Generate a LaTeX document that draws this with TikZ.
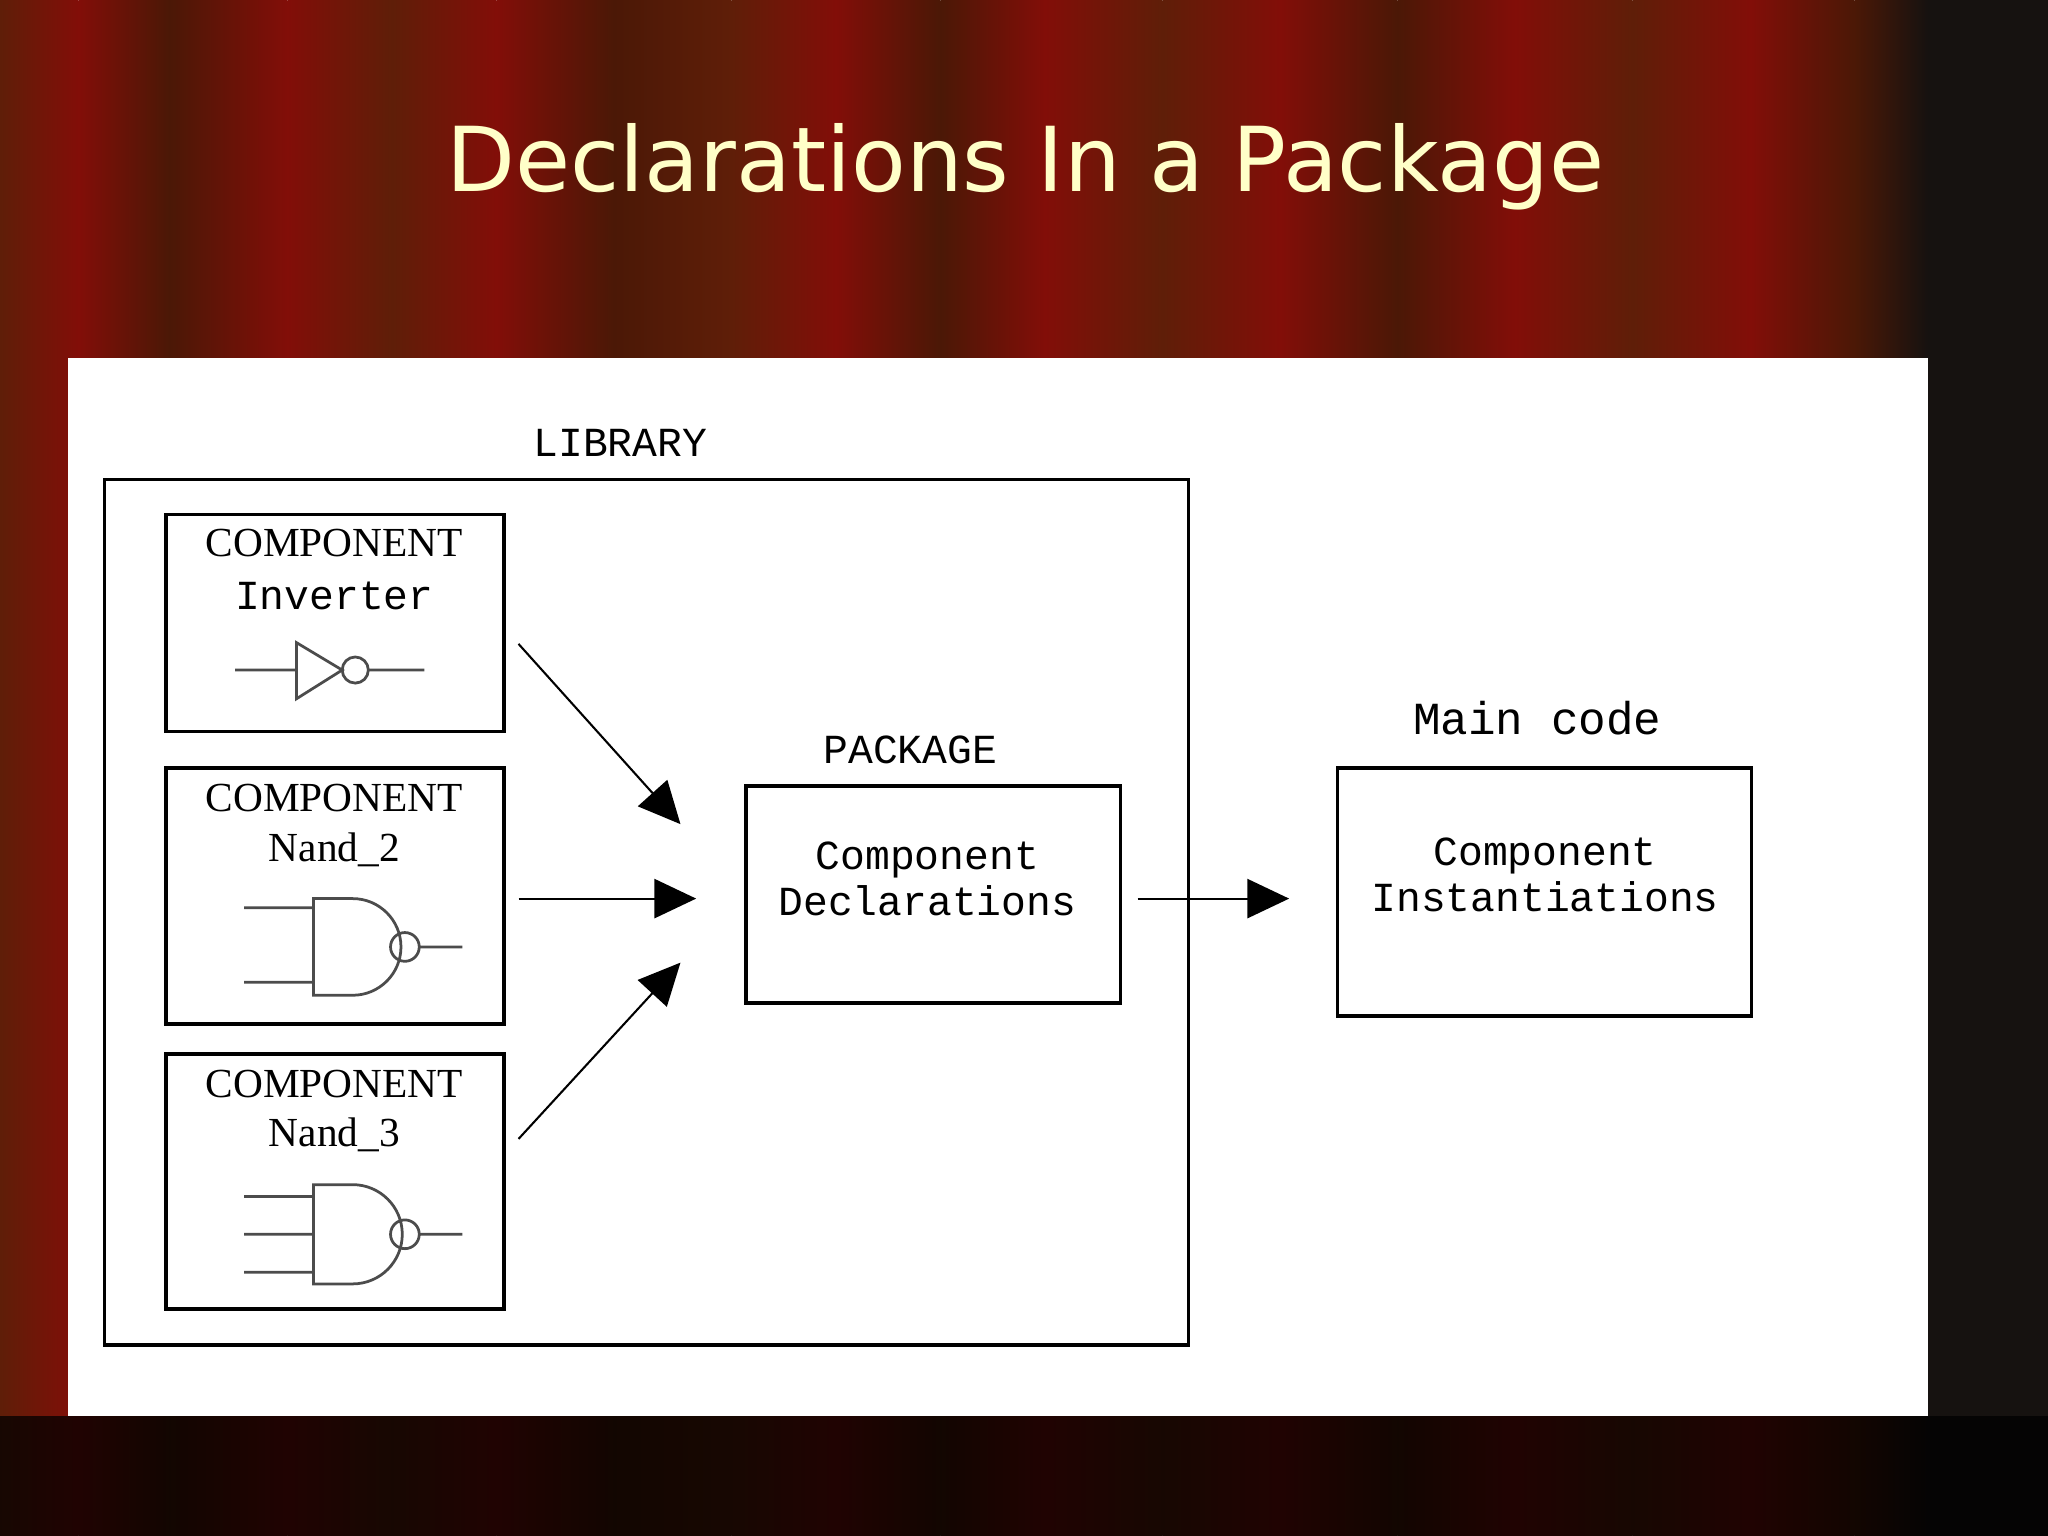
\documentclass[tikz,border=0pt]{standalone}
\usepackage{fontspec}
\setmainfont{Liberation Serif}
\newfontfamily\titlefont{DejaVu Sans}
\newfontfamily\monofont{Liberation Mono}
\usetikzlibrary{arrows.meta}
\definecolor{cA}{RGB}{95,30,8}
\definecolor{cB}{RGB}{130,14,8}
\definecolor{cC}{RGB}{75,24,6}
\definecolor{cream}{RGB}{255,255,200}
\definecolor{darkr}{RGB}{22,18,16}
\tikzset{
 box/.style={draw=black,line width=0.8pt},
 mono/.style={font=\monofont\fontsize{9}{9}\selectfont},
 ser/.style={font=\fontsize{9}{9}\selectfont},
 arr/.style={line width=0.45pt,-{Triangle[length=0.32cm,width=0.3cm]}},
 gate/.style={draw=black!70,line width=0.6pt}
}
\begin{document}
\begin{tikzpicture}[x=0.01cm,y=-0.01cm]
\useasboundingbox (0,0) rectangle (1568,1176);
% curtain
\foreach \a/\b/\ca/\cb in {0/60/cA/cB,60/130/cB/cC,130/220/cC/cB,220/300/cB/cA,300/380/cA/cB,380/470/cB/cC,470/560/cC/cA,560/640/cA/cB,640/720/cB/cC,720/800/cC/cB,800/890/cB/cA,890/980/cA/cB,980/1070/cB/cC,1070/1160/cC/cB,1160/1250/cB/cA,1250/1340/cA/cB,1340/1420/cB/cC,1420/1476/cC/darkr}
  \shade[left color=\ca,right color=\cb] (\a,0) rectangle (\b,1176);
\fill[darkr] (1476,0) rectangle (1568,1176);
\fill[black,opacity=0.75] (0,1084) rectangle (1568,1176);
% title
\node[font=\titlefont\fontsize{19.5}{19.5}\selectfont,text=cream] (title) at (785,128) {Declarations In a Package};
% panel
\fill[white] (52,274) rectangle (1476,1084);
\draw[box] (80,367) rectangle (910,1030);
\node[mono] (liblab) at (475,339) {LIBRARY};
% inverter
\draw[box] (127,394) rectangle (386,560);
\node[ser] (c1) at (256,416) {COMPONENT};
\node[mono] (inv) at (256,456) {Inverter};
\draw[gate] (180,513) -- (227,513) (227,492) -- (227,535) -- (262,513) -- cycle (272,513) circle (10) (282,513) -- (325,513);
% nand2
\draw[box] (127,588) rectangle (386,784);
\node[ser] (c2) at (256,611) {COMPONENT};
\node[ser] (n2) at (256,651) {Nand\_2};
\draw[gate] (187,695) -- (240,695) (187,752) -- (240,752)
  (240,688) -- (270,688) arc (-90:90:37) -- (240,762) -- cycle
  (310,725) circle (11) (321,725) -- (354,725);
% nand3
\draw[box] (127,807) rectangle (386,1002);
\node[ser] (c3) at (256,830) {COMPONENT};
\node[ser] (n3) at (256,869) {Nand\_3};
\draw[gate] (187,916) -- (240,916) (187,945) -- (240,945) (187,974) -- (240,974)
  (240,907) -- (270,907) arc (-90:90:38) -- (240,983) -- cycle
  (310,945) circle (11) (321,945) -- (354,945);
% package
\draw[box] (571,602) rectangle (858,768);
\node[mono] (pklab) at (697,574) {PACKAGE};
\node[mono,align=center] (pk) at (710,673) {Component\\[1pt]Declarations};
% main
\draw[box] (1024,588) rectangle (1341,778);
\node[mono,font=\monofont\fontsize{10}{10}\selectfont] (mainlab) at (1177,550) {Main code};
\node[mono,align=center] (mc) at (1183,670) {Component\\[1pt]Instantiations};
% arrows
\coordinate (a1s) at (397,493); \coordinate (a1e) at (521,631);
\coordinate (a2s) at (397,688); \coordinate (a2e) at (533,688);
\coordinate (a3s) at (397,872); \coordinate (a3e) at (521,737);
\coordinate (a4s) at (871,688); \coordinate (a4e) at (987,688);
\draw[arr] (a1s) -- (a1e);
\draw[arr] (a2s) -- (a2e);
\draw[arr] (a3s) -- (a3e);
\draw[arr] (a4s) -- (a4e);
\end{tikzpicture}
\end{document}
